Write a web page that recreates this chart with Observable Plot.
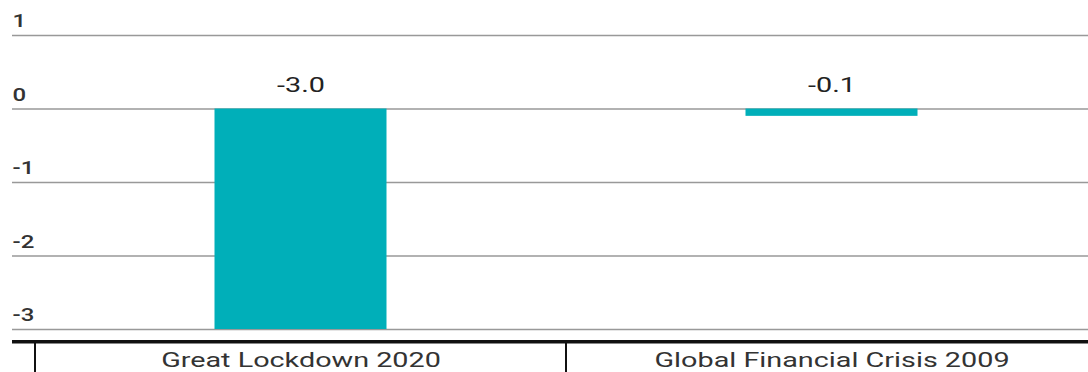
<!DOCTYPE html>
<html>
<head>
<meta charset="utf-8">
<script src="https://cdn.jsdelivr.net/npm/d3@7"></script>
<script src="https://cdn.jsdelivr.net/npm/@observablehq/plot@0.6"></script>
<style>
  html, body { margin: 0; padding: 0; background: #fff; }
  #chart svg { display: block; font-family: Roboto, "Noto Sans", sans-serif; }
</style>
</head>
<body>
<div id="chart"></div>
<script>
const categories = ["Great Lockdown 2020", "Global Financial Crisis 2009"];
const values = [-3.0, -0.1];
const yTicks = [1, 0, -1, -2, -3];

const data = categories.map((c, i) => ({category: c, value: values[i]}));

const plot = Plot.plot({
  width: 1088,
  height: 372,
  marginTop: 35,
  marginBottom: 43,
  marginLeft: 12,
  marginRight: 0,
  style: {fontFamily: "Roboto, sans-serif", color: "#333"},
  x: {domain: categories, range: [34.5, 1096.5], padding: 0},
  y: {domain: [-3, 1]},
  marks: [
    Plot.ruleY(yTicks, {stroke: "#999", strokeWidth: 1.5}),
    Plot.barY(data, {x: "category", y: "value", fill: "#00afb9", insetLeft: 179.5, insetRight: 179.5}),
    Plot.text(data, {x: "category", y: d => Math.max(0, d.value), text: d => d.value.toFixed(1), dy: -24, fontSize: 21, fill: "#222"}),
    Plot.barY(categories, {x: d => d, y1: -3.165, y2: -3.8, fill: "none", stroke: "#111", strokeWidth: 2}),
    Plot.ruleY([-3.165], {stroke: "#111", strokeWidth: 3.5}),
    Plot.axisY({ticks: yTicks, tickSize: 0, tickPadding: 0, textAnchor: "start", dy: -14, fontSize: 17.5, fontWeight: 500, tickFormat: d => String(d), label: null}),
    Plot.axisX({tickSize: 0, tickPadding: 23, fontSize: 21, label: null})
  ]
});

document.getElementById("chart").appendChild(plot);

// Horizontal stretch of the lettering, as in the reference
const stretch = 1.37;
d3.select(plot).selectAll("text").each(function () {
  const len = this.getComputedTextLength();
  if (len > 0) {
    this.setAttribute("textLength", (len * stretch).toFixed(2));
    this.setAttribute("lengthAdjust", "spacingAndGlyphs");
  }
});
</script>
</body>
</html>
